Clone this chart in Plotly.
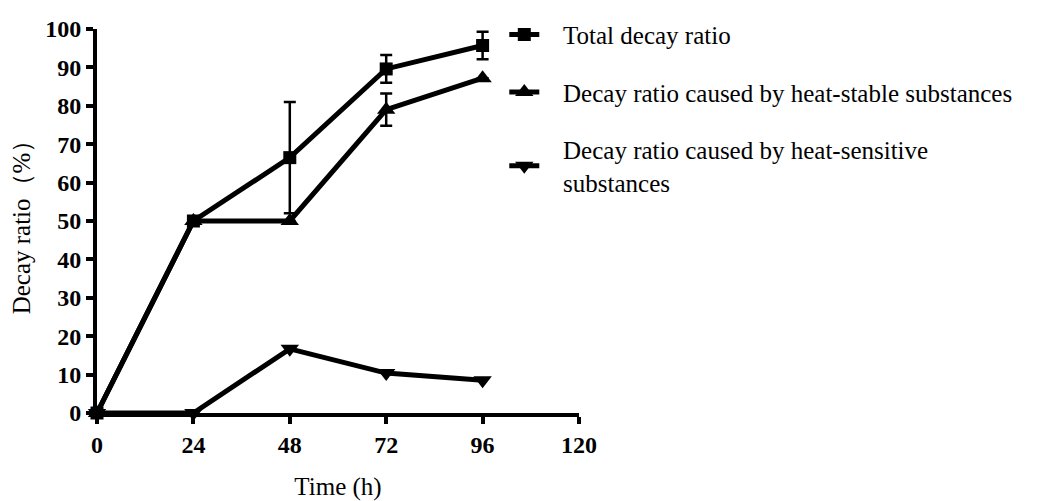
import plotly.graph_objects as go

time_h = [0, 24, 48, 72, 96]
total = [0, 50, 66.5, 89.6, 95.7]
total_err = [0, 0, 14.5, 3.6, 3.6]
stable = [0, 50, 50, 79.0, 87.2]
stable_err = [0, 0, 0, 4.2, 0]
sensitive = [0, 0, 16.7, 10.4, 8.5]

NB = "\u00a0\u00a0\u00a0"
names = [NB + "Total decay ratio",
         NB + "Decay ratio caused by heat-stable substances",
         NB + "Decay ratio caused by heat-sensitive<br>" + NB + "substances"]

FONT = "Liberation Serif, Times New Roman, serif"

fig = go.Figure()
series = [(total, total_err, "square", 13),
          (stable, stable_err, "triangle-up", 16),
          (sensitive, None, "triangle-down", 16)]
for i, (ys, err, sym, sz) in enumerate(series):
    kw = {}
    if err is not None:
        kw["error_y"] = dict(type="data", array=err, visible=True, color="black",
                             thickness=2.5, width=6)
    fig.add_trace(go.Scatter(
        x=time_h, y=ys, mode="lines+markers", name=names[i],
        line=dict(color="black", width=5),
        marker=dict(symbol=sym, size=sz, color="black"),
        cliponaxis=False, legendgroup=str(i), **kw))

axis_common = dict(showline=True, linecolor="black", linewidth=4, ticks="outside",
                   ticklen=7, tickwidth=4, tickcolor="black", showgrid=False, zeroline=False,
                   automargin=False,
                   tickfont=dict(family=FONT, size=24, color="black", weight="bold"))

fig.update_xaxes(range=[0, 120], tickvals=[0, 24, 48, 72, 96, 120],
                 title=dict(text="Time (h)", font=dict(family=FONT, size=25, color="black"),
                            standoff=22), **axis_common)
fig.update_yaxes(range=[0, 100], tickvals=list(range(0, 101, 10)),
                 title=dict(text="Decay ratio（%）", font=dict(family=FONT, size=25, color="black"),
                            standoff=8), **axis_common)

fig.update_layout(
    width=1052, height=501,
    margin=dict(l=97, r=473, t=23, b=88),
    paper_bgcolor="white", plot_bgcolor="white",
    showlegend=True,
    legend=dict(x=0.845, y=1.045, xanchor="left", yanchor="top",
                font=dict(family=FONT, size=25, color="black"),
                traceorder="grouped", tracegroupgap=22,
                bgcolor="rgba(0,0,0,0)", itemwidth=30),
)

fig.write_html("out.html")
